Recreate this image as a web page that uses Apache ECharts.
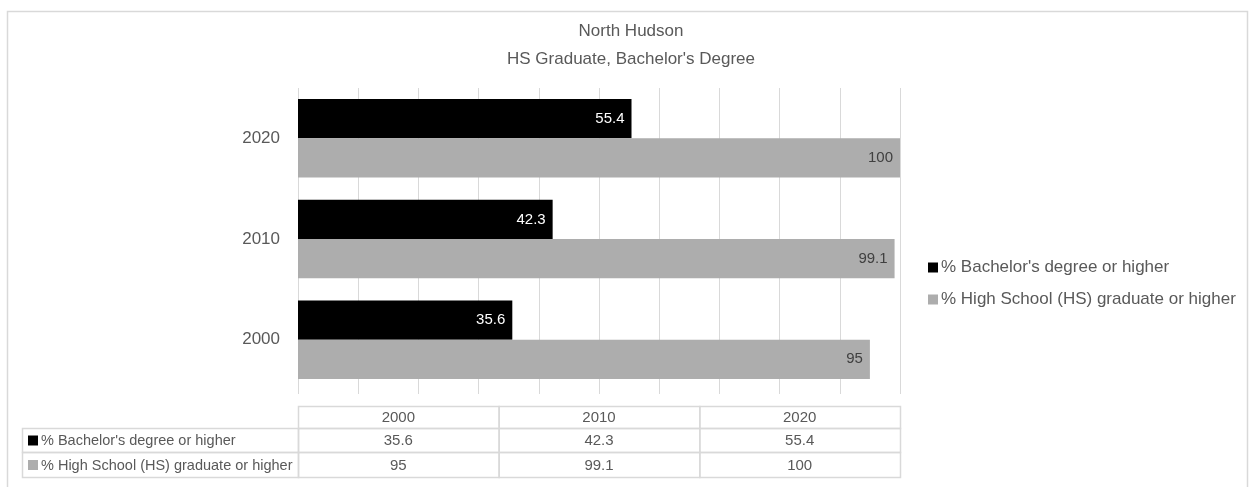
<!DOCTYPE html>
<html>
<head>
<meta charset="utf-8">
<script src="https://cdn.jsdelivr.net/npm/echarts@6/dist/echarts.min.js"></script>
<style>
html,body{margin:0;padding:0;background:#fff;}
#main{width:1250px;height:487px;}
</style>
</head>
<body>
<div id="main"></div>
<script>
var titleLines = ["North Hudson", "HS Graduate, Bachelor's Degree"];
var categories = ["2000", "2010", "2020"];
var seriesNames = ["% Bachelor's degree or higher", "% High School (HS) graduate or higher"];
var bachelorValues = [35.6, 42.3, 55.4];
var hsValues = [95, 99.1, 100];
var xTicks = [0, 10, 20, 30, 40, 50, 60, 70, 80, 90, 100];

var FONT = "'Liberation Sans', Arial, sans-serif";
var TXT = '#595959';
var COLORS = ['#000000', '#adadad'];
var GRID = {left: 298, right: 350, top: 88, bottom: 97};
var W = 1250, H = 487;

var chart = echarts.init(document.getElementById('main'), null, {renderer: 'canvas'});

function tableGraphics() {
  var g = [];
  var x0 = GRID.left, x1 = W - GRID.right;
  var labelLeft = 22;
  var colW = (x1 - x0) / categories.length;
  var rowsY = [406, 428, 452, 477];
  var lineC = '#d9d9d9';
  categories.forEach(function (c, i) {
    g.push({type: 'rect', shape: {x: x0 + i * colW + 0.5, y: rowsY[0] + 0.5, width: colW, height: rowsY[1] - rowsY[0]},
      style: {fill: 'none', stroke: lineC, lineWidth: 1.5}});
    g.push({type: 'text', x: x0 + i * colW + colW / 2, y: (rowsY[0] + rowsY[1]) / 2 + 1,
      style: {text: c, font: '15px ' + FONT, fill: TXT, align: 'center', verticalAlign: 'middle'}});
  });
  var rows = [bachelorValues, hsValues];
  rows.forEach(function (vals, r) {
    var yt = rowsY[r + 1], yb = rowsY[r + 2];
    g.push({type: 'rect', shape: {x: labelLeft + 0.5, y: yt + 0.5, width: x0 - labelLeft, height: yb - yt},
      style: {fill: 'none', stroke: lineC, lineWidth: 1.5}});
    g.push({type: 'rect', shape: {x: labelLeft + 6, y: (yt + yb) / 2 - 4.5, width: 10, height: 10},
      style: {fill: COLORS[r]}});
    g.push({type: 'text', x: labelLeft + 19, y: (yt + yb) / 2 + 1,
      style: {text: seriesNames[r], font: '14.5px ' + FONT, fill: TXT, align: 'left', verticalAlign: 'middle'}});
    vals.forEach(function (v, i) {
      g.push({type: 'rect', shape: {x: x0 + i * colW + 0.5, y: yt + 0.5, width: colW, height: yb - yt},
        style: {fill: 'none', stroke: lineC, lineWidth: 1.5}});
      g.push({type: 'text', x: x0 + i * colW + colW / 2, y: (yt + yb) / 2 + 1,
        style: {text: String(v), font: '15px ' + FONT, fill: TXT, align: 'center', verticalAlign: 'middle'}});
    });
  });
  g.push({type: 'rect', z: -10, shape: {x: 7.5, y: 11.5, width: 1240, height: 490},
    style: {fill: 'none', stroke: '#d9d9d9', lineWidth: 1.5}});
  return g;
}

var option = {
  animation: false,
  backgroundColor: '#ffffff',
  textStyle: {fontFamily: FONT},
  title: {
    text: titleLines.join('\n'),
    left: 626, top: 12, textAlign: 'center',
    textStyle: {fontFamily: FONT, fontSize: 17, fontWeight: 'normal', color: TXT, lineHeight: 28}
  },
  legend: {
    orient: 'vertical',
    left: 923, top: 254,
    itemWidth: 10, itemHeight: 10, itemGap: 15,
    icon: 'rect',
    data: seriesNames,
    textStyle: {fontFamily: FONT, fontSize: 17, color: TXT, padding: [0, 0, 0, -2]}
  },
  grid: {left: GRID.left, right: GRID.right, top: GRID.top, bottom: GRID.bottom, containLabel: false},
  xAxis: {
    type: 'value', min: xTicks[0], max: xTicks[xTicks.length - 1], interval: xTicks[1] - xTicks[0],
    axisLine: {show: false},
    axisTick: {show: true, length: 4, lineStyle: {color: '#d9d9d9'}},
    axisLabel: {show: false},
    splitLine: {show: true, lineStyle: {color: '#d9d9d9', width: 1}}
  },
  yAxis: {
    type: 'category', data: categories,
    axisLine: {show: false}, axisTick: {show: false},
    axisLabel: {fontFamily: FONT, fontSize: 17, color: TXT, margin: 18}
  },
  series: [
    {
      name: seriesNames[0], type: 'bar', data: bachelorValues,
      barGap: '0%', barCategoryGap: '22%',
      itemStyle: {color: COLORS[0]},
      label: {show: true, position: 'insideRight', distance: 7, fontFamily: FONT, fontSize: 15, color: '#ffffff'}
    },
    {
      name: seriesNames[1], type: 'bar', data: hsValues,
      barGap: '0%', barCategoryGap: '22%',
      itemStyle: {color: COLORS[1]},
      label: {show: true, position: 'insideRight', distance: 7, fontFamily: FONT, fontSize: 15, color: '#404040'}
    }
  ],
  graphic: tableGraphics()
};
chart.setOption(option);
</script>
</body>
</html>
